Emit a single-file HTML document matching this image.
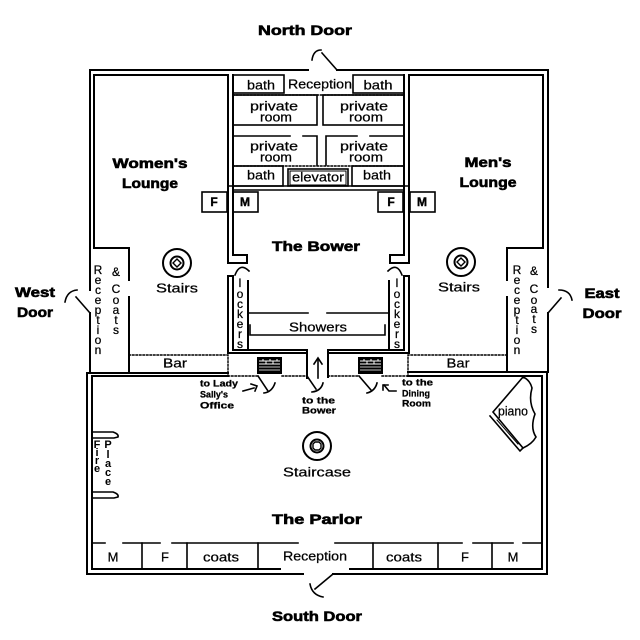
<!DOCTYPE html>
<html><head><meta charset="utf-8"><style>
html,body{margin:0;padding:0;background:#fff;}
svg{display:block;}
text{font-family:"Liberation Sans",sans-serif;fill:#000;}
.b{font-weight:bold;}
</style></head><body>
<svg width="640" height="640" viewBox="0 0 640 640" xmlns="http://www.w3.org/2000/svg">
<rect width="640" height="640" fill="#fff"/>
<g stroke="#000" stroke-width="2" fill="none" stroke-linecap="square">
<!-- upper outer -->
<path d="M90,290 V70 H308"/>
<path d="M337,70 H548 V287"/>
<path d="M548,313 V372"/>
<path d="M90,313 V373"/>
<!-- women's lounge inner -->
<path d="M94,75 H228"/>
<path d="M94,75 V248 H129 V280"/>
<path d="M129,297 V373"/>
<!-- men's lounge inner -->
<path d="M409,75 H543 V248 H507 V280"/>
<path d="M507,297 V372"/>
<!-- center walls -->
<path d="M228,75 V263 H247 V255 H233 V75"/>
<path d="M409,75 V263 H390 V255 H404 V75"/>
<!-- lockers -->
<path d="M307,353 H228 V276 H233 V350 H307"/>
<path d="M307,350 V378"/>
<path d="M248,281 V350"/>
<path d="M328,353 H409 V276 H404 V350 H328"/>
<path d="M328,350 V377"/>
<path d="M389,281 V350"/>
<!-- bower door hooks -->
<path d="M235,275 Q240,262 249,271" stroke-width="1.6"/>
<path d="M402,275 Q397,262 388,271" stroke-width="1.6"/>
<!-- center rooms -->
<g stroke-width="1.6">
<rect x="233" y="75" width="51" height="18"/>
<rect x="353" y="75" width="51" height="18"/>
<rect x="233" y="95" width="84" height="30"/>
<rect x="323" y="95" width="81" height="30"/>
<path d="M233,136 H290 M303,136 H317 V165"/>
<path d="M326,165 V136 H357 M370,136 H404"/>
<rect x="233" y="166" width="50" height="20"/>
<rect x="352" y="166" width="52" height="20"/>
<rect x="288" y="169" width="60" height="17"/>
<rect x="290" y="171" width="56" height="14" stroke-width="1"/>
<path d="M228,186 H409"/>
<path d="M233,190 H404"/>
<!-- F M boxes -->
<rect x="202" y="192" width="25" height="20"/>
<rect x="233" y="192" width="25" height="20"/>
<rect x="378" y="192" width="25" height="20"/>
<rect x="410" y="192" width="25" height="20"/>
<!-- showers -->
<path d="M248,313 H308 M327,313 H389"/>
<path d="M250,325 V335 H385 V325"/>
</g>
<g stroke-width="1.4" stroke-dasharray="1.5,2">
<path d="M233,95 H404"/>
<path d="M233,166 H404"/>
<path d="M129,355 H228 V376"/>
<path d="M228,376 H257 M282,376 H307"/>
<path d="M507,355 H408 V376"/>
<path d="M328,376 H358 M382,376 H408"/>
</g>
<!-- parlor -->
<path d="M87,373 H228"/>
<path d="M408,372 H547 V574 H333"/>
<path d="M303,574 H87 V373"/>
<path d="M92,569 V376 H228"/>
<path d="M408,376 H542 V569 H350"/>
<path d="M280,569 H92"/>
<!-- bottom rooms -->
<g stroke-width="1.6">
<path d="M92,543 H105 M123,543 H160 M172,543 H298 M335,543 H462 M473,543 H513 M523,543 H542"/>
<path d="M142,543 V569 M187,543 V569 M258,543 V569 M373,543 V569 M438,543 V569 M492,543 V569"/>
</g>
<!-- doors -->
<g stroke-width="1.6">
<path d="M322,53 L337,70"/>
<path d="M312,60 C313,53 316,50 321,50"/>
<path d="M333,574 L315,589"/>
<path d="M310,584 Q312,595 323,597"/>
<path d="M90,313 L76,297"/>
<path d="M65,302 Q67,291 77,290"/>
<path d="M548,313 L561,298"/>
<path d="M559,290 Q570,290 572,300"/>
<path d="M258,376 L268,391"/>
<path d="M264,393 Q272,392 275,383"/>
<path d="M243,391 L254,388"/>
<path d="M251,384 L257,386 L255,391"/>
<path d="M307,376 L316,389"/>
<path d="M312,392 Q321,391 323,383"/>
<path d="M318,378 V359"/>
<path d="M314,364 L318,358 L322,364"/>
<path d="M359,376 L371,390"/>
<path d="M367,393 Q375,391 377,383"/>
<path d="M384,385 L389,391 H396"/>
<path d="M383,390 V385 H388"/>
</g>
<!-- stairs -->
<circle cx="177" cy="263" r="14"/>
<circle cx="177" cy="263" r="6.5"/>
<path d="M177,259 L181,263 L177,267 L173,263 Z" stroke-width="1.4"/>
<circle cx="461" cy="262" r="14"/>
<circle cx="461" cy="262" r="6.5"/>
<path d="M461,258 L465,262 L461,266 L457,262 Z" stroke-width="1.4"/>
<circle cx="317" cy="446" r="14"/>
<circle cx="317" cy="446" r="6.5"/>
<path d="M315,442 H319 L321,444 V448 L319,450 H315 L313,448 V444 Z" stroke-width="1.4"/>
<!-- fireplace -->
<g stroke-width="1.6">
<path d="M93,432 H113 Q119,434 118,437 L114,438 H93"/>
<path d="M93,492 H113 Q119,494 118,497 L114,498 H93"/>
</g>
<!-- piano -->
<g stroke-width="1.6">
<path d="M523,377 L493,412 L523,448 Q532,444 536,437 Q530,428 535,414 Q528,402 532,388 Q530,380 523,377 Z"/>
<path d="M490,416 L520,451 L523,448" />
<path d="M497,420 L518,444" stroke-width="1"/>
</g>
</g>
<!-- brick boxes -->
<g>
<rect x="257" y="357" width="25" height="17" fill="#000"/>
<rect x="358" y="357" width="25" height="17" fill="#000"/>
<g stroke="#fff" stroke-width="1">
<path d="M259,361 H280 M259,364 H280 M263,359 V361 M270,359 V361 M277,359 V361 M266,361 V364 M273,361 V364"/>
<path d="M360,361 H381 M360,364 H381 M364,359 V361 M371,359 V361 M378,359 V361 M367,361 V364 M374,361 V364"/>
<path d="M259,367 H280 M259,370 H280 M360,367 H381 M360,370 H381" stroke-width="0.7"/>
</g>
</g>
<!-- big labels -->
<g class="b" font-size="14" text-anchor="middle" dominant-baseline="central" stroke="#000" stroke-width="0.6">
<text x="305" y="30" textLength="94" lengthAdjust="spacingAndGlyphs">North Door</text>
<text x="317" y="616" textLength="90" lengthAdjust="spacingAndGlyphs">South Door</text>
<text x="35" y="292" textLength="40" lengthAdjust="spacingAndGlyphs">West</text>
<text x="35" y="312" textLength="36" lengthAdjust="spacingAndGlyphs">Door</text>
<text x="602" y="293" textLength="35" lengthAdjust="spacingAndGlyphs">East</text>
<text x="602" y="313" textLength="39" lengthAdjust="spacingAndGlyphs">Door</text>
<text x="150" y="163" textLength="75" lengthAdjust="spacingAndGlyphs">Women's</text>
<text x="150" y="183" textLength="56" lengthAdjust="spacingAndGlyphs">Lounge</text>
<text x="488" y="162" textLength="47" lengthAdjust="spacingAndGlyphs">Men's</text>
<text x="488" y="182" textLength="57" lengthAdjust="spacingAndGlyphs">Lounge</text>
<text x="316" y="246" textLength="88" lengthAdjust="spacingAndGlyphs">The Bower</text>
<text x="317" y="519" textLength="90" lengthAdjust="spacingAndGlyphs">The Parlor</text>
</g>
<g class="b" font-size="12" text-anchor="middle" dominant-baseline="central" stroke="#000" stroke-width="0.4">
<text x="214" y="202">F</text>
<text x="245" y="202">M</text>
<text x="391" y="202">F</text>
<text x="422" y="202">M</text>
</g>
<!-- small labels -->
<g font-size="13" text-anchor="middle" dominant-baseline="central" stroke="#000" stroke-width="0.25">
<text x="261" y="85" textLength="28" lengthAdjust="spacingAndGlyphs">bath</text>
<text x="320" y="84" textLength="64" lengthAdjust="spacingAndGlyphs">Reception</text>
<text x="378" y="85" textLength="29" lengthAdjust="spacingAndGlyphs">bath</text>
<text x="274" y="106" textLength="48" lengthAdjust="spacingAndGlyphs">private</text>
<text x="276" y="117" textLength="32" lengthAdjust="spacingAndGlyphs">room</text>
<text x="364" y="106" textLength="48" lengthAdjust="spacingAndGlyphs">private</text>
<text x="366" y="117" textLength="34" lengthAdjust="spacingAndGlyphs">room</text>
<text x="274" y="146" textLength="48" lengthAdjust="spacingAndGlyphs">private</text>
<text x="276" y="157" textLength="32" lengthAdjust="spacingAndGlyphs">room</text>
<text x="364" y="146" textLength="48" lengthAdjust="spacingAndGlyphs">private</text>
<text x="366" y="157" textLength="34" lengthAdjust="spacingAndGlyphs">room</text>
<text x="261" y="175" textLength="28" lengthAdjust="spacingAndGlyphs">bath</text>
<text x="318" y="177" textLength="52" lengthAdjust="spacingAndGlyphs">elevator</text>
<text x="377" y="175" textLength="28" lengthAdjust="spacingAndGlyphs">bath</text>
<text x="177" y="288" textLength="42" lengthAdjust="spacingAndGlyphs">Stairs</text>
<text x="459" y="287" textLength="42" lengthAdjust="spacingAndGlyphs">Stairs</text>
<text x="318" y="327" textLength="58" lengthAdjust="spacingAndGlyphs">Showers</text>
<text x="175" y="363" textLength="24" lengthAdjust="spacingAndGlyphs">Bar</text>
<text x="458" y="363" textLength="23" lengthAdjust="spacingAndGlyphs">Bar</text>
<text x="317" y="472" textLength="68" lengthAdjust="spacingAndGlyphs">Staircase</text>
<text x="513" y="411" textLength="30" lengthAdjust="spacingAndGlyphs">piano</text>
<text x="113" y="557">M</text>
<text x="165" y="557">F</text>
<text x="221" y="557" textLength="36" lengthAdjust="spacingAndGlyphs">coats</text>
<text x="315" y="556" textLength="64" lengthAdjust="spacingAndGlyphs">Reception</text>
<text x="404" y="557" textLength="36" lengthAdjust="spacingAndGlyphs">coats</text>
<text x="465" y="557">F</text>
<text x="513" y="557">M</text>
</g>
<!-- tiny bold labels -->
<g class="b" font-size="9.5" dominant-baseline="central" stroke="#000" stroke-width="0.3">
<text x="200" y="384" textLength="38" lengthAdjust="spacingAndGlyphs">to Lady</text>
<text x="200" y="395" textLength="28" lengthAdjust="spacingAndGlyphs">Sally's</text>
<text x="200" y="406" textLength="34" lengthAdjust="spacingAndGlyphs">Office</text>
<text x="302" y="401" textLength="33" lengthAdjust="spacingAndGlyphs">to the</text>
<text x="302" y="411" textLength="34" lengthAdjust="spacingAndGlyphs">Bower</text>
<text x="402" y="383" textLength="31" lengthAdjust="spacingAndGlyphs">to the</text>
<text x="402" y="394" textLength="28" lengthAdjust="spacingAndGlyphs">Dining</text>
<text x="402" y="404" textLength="29" lengthAdjust="spacingAndGlyphs">Room</text>
</g>
<!-- vertical stacks -->
<g font-size="12" text-anchor="middle" dominant-baseline="central" stroke="#000" stroke-width="0.25">
<text x="98" y="270">R</text><text x="98" y="280">e</text><text x="98" y="290">c</text><text x="98" y="300">e</text><text x="98" y="310">p</text><text x="98" y="320">t</text><text x="98" y="330">i</text><text x="98" y="340">o</text><text x="98" y="350">n</text>
<text x="116" y="272">&amp;</text><text x="116" y="289">C</text><text x="116" y="300">o</text><text x="116" y="310">a</text><text x="116" y="320">t</text><text x="116" y="330">s</text>
<text x="517" y="270">R</text><text x="517" y="280">e</text><text x="517" y="290">c</text><text x="517" y="300">e</text><text x="517" y="310">p</text><text x="517" y="320">t</text><text x="517" y="330">i</text><text x="517" y="340">o</text><text x="517" y="350">n</text>
<text x="534" y="271">&amp;</text><text x="534" y="289">C</text><text x="534" y="300">o</text><text x="534" y="309">a</text><text x="534" y="319">t</text><text x="534" y="329">s</text>
<text x="240" y="283">l</text><text x="240" y="294">o</text><text x="240" y="304">c</text><text x="240" y="314">k</text><text x="240" y="324">e</text><text x="240" y="334">r</text><text x="240" y="344">s</text>
<text x="397" y="283">l</text><text x="397" y="294">o</text><text x="397" y="304">c</text><text x="397" y="314">k</text><text x="397" y="324">e</text><text x="397" y="334">r</text><text x="397" y="344">s</text>
</g>
<g class="b" font-size="11" text-anchor="middle" dominant-baseline="central">
<text x="97" y="445">F</text><text x="97" y="453">i</text><text x="97" y="461">r</text><text x="97" y="469">e</text>
<text x="108" y="445">P</text><text x="108" y="455">l</text><text x="108" y="464">a</text><text x="108" y="473">c</text><text x="108" y="482">e</text>
</g>
</svg>
</body></html>
